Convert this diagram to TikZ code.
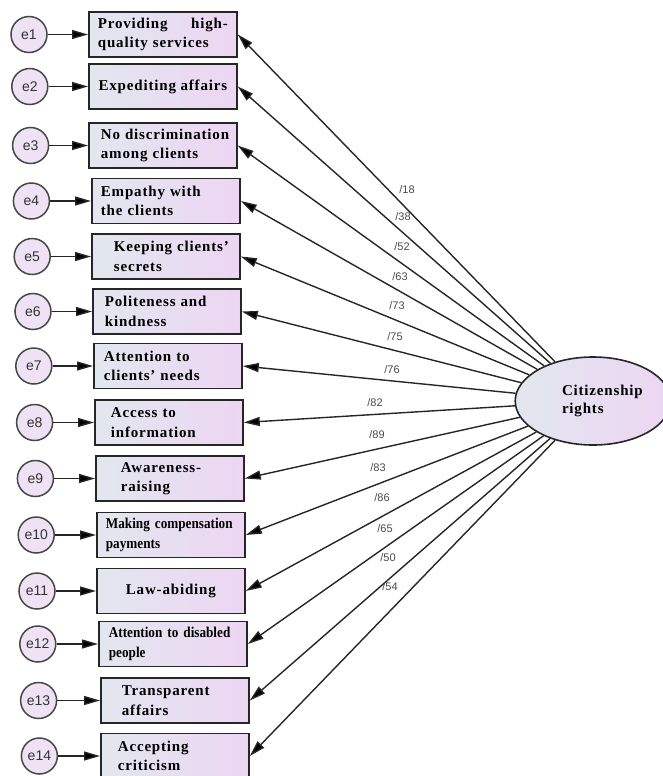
\documentclass[tikz,border=0pt]{standalone}
\usepackage{fontspec}
\setmainfont{Liberation Serif}
\newfontfamily\itemfont[LetterSpace=5.5]{Liberation Serif}
\newfontfamily\narrowfont[FakeStretch=0.88]{Liberation Serif}
\newfontfamily\errfont{Liberation Sans}
\usepackage{tikz}
\usetikzlibrary{shapes.geometric,arrows.meta}
\usepackage{xcolor}
\definecolor{boxleft}{HTML}{E2E7EF}
\definecolor{boxright}{HTML}{EDD6F3}
\definecolor{errfill}{HTML}{EEE2F4}
\definecolor{edgecol}{HTML}{262626}
\definecolor{wtcol}{HTML}{4A4A4A}
\tikzset{
  obs/.style={rectangle, draw=edgecol, line width=1.8pt, minimum width=148pt, minimum height=45pt,
    inner sep=0pt, left color=boxleft, right color=boxright, align=left, anchor=west,
    font=\itemfont\bfseries\fontsize{15}{19.5}\selectfont},
  narrow/.style={font=\narrowfont\bfseries\fontsize{15}{19.5}\selectfont},
  err/.style={circle, draw=edgecol!85, line width=1.5pt, minimum size=36pt, inner sep=0pt,
    fill=errfill, text=black!80, font=\errfont\fontsize{14}{14}\selectfont},
  lat/.style={ellipse, draw=edgecol, line width=1.6pt, minimum width=136pt, minimum height=88pt,
    inner sep=0pt, left color=boxleft, right color=boxright, align=left,
    font=\itemfont\bfseries\fontsize{15}{18}\selectfont},
  wt/.style={inner sep=1pt, text=wtcol, font=\errfont\fontsize{11}{11}\selectfont},
  conn/.style={draw=edgecol, line width=1.4pt, -{Triangle[length=16pt,width=9pt]}}
}
\begin{document}
\begin{tikzpicture}[x=1pt,y=-1pt]
\useasboundingbox (0,0) rectangle (662,776);

% measured items
\node[obs, text width=130pt] (b1) at (88,34.5) {Providing\hfill high-\\quality services};
\node[obs, align=center] (b2) at (88,86.5) {Expediting affairs};
\node[obs, text width=124pt] (b3) at (88,145.5) {\mbox{No discrimination}\\among clients};
\node[obs, text width=130pt] (b4) at (91,201) {Empathy with\\the clients};
\node[obs, text width=104pt] (b5) at (91,256.5) {\mbox{Keeping clients’}\\secrets};
\node[obs, text width=124pt] (b6) at (92,311.5) {Politeness and\\kindness};
\node[obs, text width=128pt] (b7) at (93,366) {Attention to\\clients’ needs};
\node[obs, text width=116pt] (b8) at (94,422.5) {Access to\\information};
\node[obs, text width=98pt] (b9) at (95,478.5) {Awareness-\\raising};
\node[obs, narrow, text width=130pt] (b10) at (96,535) {Making compensation\\payments};
\node[obs, align=center] (b11) at (96,591) {Law-abiding};
\node[obs, narrow, text width=128pt] (b12) at (98,644) {Attention to disabled\\people};
\node[obs, text width=106pt] (b13) at (100,700.5) {Transparent\\affairs};
\node[obs, text width=114pt] (b14) at (100,756) {Accepting\\criticism};

% error terms
\node[err] (e1) at (29,34.5) {e1};
\node[err] (e2) at (29.8,86.5) {e2};
\node[err] (e3) at (30.6,145.5) {e3};
\node[err] (e4) at (31.4,201) {e4};
\node[err] (e5) at (32.2,256.5) {e5};
\node[err] (e6) at (33,311.5) {e6};
\node[err] (e7) at (33.8,366) {e7};
\node[err] (e8) at (34.6,422.5) {e8};
\node[err] (e9) at (35.4,478.5) {e9};
\node[err] (e10) at (36.2,535) {e10};
\node[err] (e11) at (37,591) {e11};
\node[err] (e12) at (37.8,644) {e12};
\node[err] (e13) at (38.6,700.5) {e13};
\node[err] (e14) at (39.4,756) {e14};

% latent variable
\node[lat, text width=110pt] (cr) at (593,401) {\hspace*{24pt}Citizenship\\\hspace*{24pt}rights};

\draw[conn]
(e1) edge (b1) (e2) edge (b2) (e3) edge (b3) (e4) edge (b4)
(e5) edge (b5) (e6) edge (b6) (e7) edge (b7) (e8) edge (b8)
(e9) edge (b9) (e10) edge (b10) (e11) edge (b11) (e12) edge (b12)
(e13) edge (b13) (e14) edge (b14);

\draw[conn]
(cr) edge (b1.east)
(cr) edge (b2.east)
(cr) edge (b3.east)
(cr) edge (b4.east)
(cr) edge (b5.east)
(cr) edge (b6.east)
(cr) edge (b7.east)
(cr) edge (b8.east)
(cr) edge (b9.east)
(cr) edge (b10.east)
(cr) edge (b11.east)
(cr) edge (b12.east)
(cr) edge (b13.east)
(cr) edge (b14.east);

% loadings
\node[wt] (w1) at (407,190) {/18};
\node[wt] (w2) at (403,217) {/38};
\node[wt] (w3) at (402,247) {/52};
\node[wt] (w4) at (400,277) {/63};
\node[wt] (w5) at (397,306) {/73};
\node[wt] (w6) at (395,337) {/75};
\node[wt] (w7) at (392,370) {/76};
\node[wt] (w8) at (375,403) {/82};
\node[wt] (w9) at (377,435) {/89};
\node[wt] (w10) at (378,468) {/83};
\node[wt] (w11) at (382,498) {/86};
\node[wt] (w12) at (385,529) {/65};
\node[wt] (w13) at (388,558) {/50};
\node[wt] (w14) at (390,587) {/54};
\end{tikzpicture}
\end{document}
